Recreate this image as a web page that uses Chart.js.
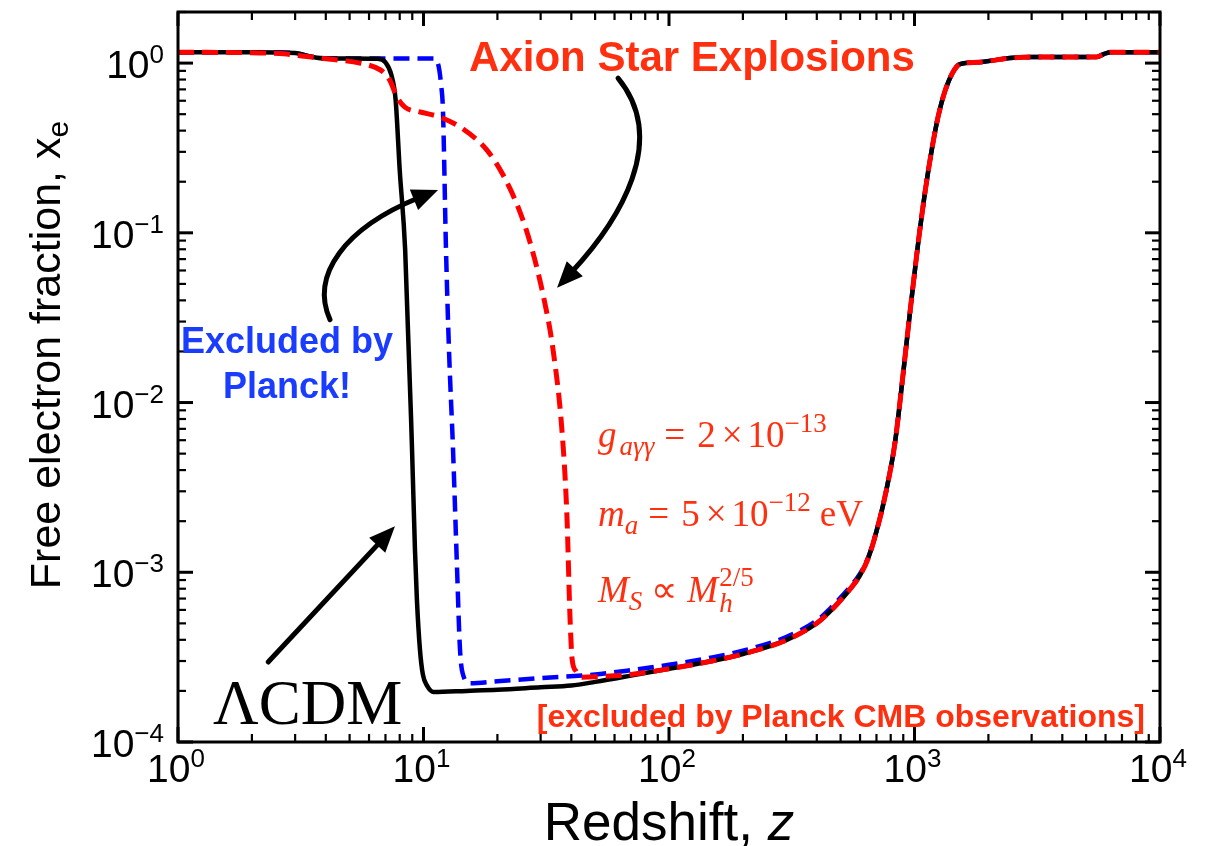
<!DOCTYPE html>
<html>
<head>
<meta charset="utf-8">
<title>Free electron fraction vs redshift</title>
<script src="https://cdn.jsdelivr.net/npm/chart.js@4.4.1/dist/chart.umd.min.js"></script>
<style>
  html, body { margin: 0; padding: 0; background: #fff; }
  #wrap { width: 1211px; height: 846px; position: relative; }
</style>
</head>
<body>
<div id="wrap"><canvas id="xeChart"></canvas></div>
<script>
// standard LCDM ionization history
const lcdmZ  = [1, 2, 3, 3.5, 4, 5, 6.5, 7, 7.4, 7.7, 8.0, 8.42, 8.98, 9.23, 9.4, 9.67, 9.94, 10.35, 11,
                15, 20, 30, 40, 50, 70, 100, 150, 200, 300, 400, 450, 500, 550, 600, 650, 700, 760, 833, 898, 959,
                1033, 1104, 1179, 1247, 1331, 1435, 1532, 1800, 2450, 3000, 5500, 5900, 6300, 10000];
const lcdmXe = [1.16, 1.16, 1.145, 1.09, 1.065, 1.065, 1.06, 1.01, 0.85, 0.606, 0.235, 0.0794, 0.0053, 0.00136, 0.00069, 0.000352, 0.00025, 0.000214, 0.000197,
                0.0002, 0.000203, 0.00021, 0.000215, 0.000226, 0.000246, 0.00027, 0.0003, 0.00033, 0.000398, 0.000501, 0.000582, 0.000684, 0.000805, 0.00096, 0.001225, 0.00174, 0.00284, 0.00582, 0.0146, 0.0343,
                0.085, 0.174, 0.316, 0.481, 0.684, 0.885, 0.987, 1.01, 1.07, 1.085, 1.085, 1.13, 1.16, 1.16];

// early reionization that Planck rules out
const planckZ  = [1, 2, 3, 3.5, 4, 5, 6.5, 8, 11, 11.5, 11.8, 12.0, 12.35, 12.7, 13.19, 13.69, 14.08, 14.6, 15.5,
                  20, 30, 50, 70, 100, 150, 200, 300, 400, 450, 500, 550, 600, 650, 700, 760, 833, 898, 959,
                  1033, 1104, 1179, 1247, 1331, 1435, 1532, 1800, 2450, 3000, 5500, 5900, 6300, 10000];
const planckXe = [1.16, 1.16, 1.145, 1.09, 1.065, 1.065, 1.065, 1.065, 1.065, 0.97, 0.74, 0.53, 0.0794, 0.0205, 0.0053, 0.00108, 0.000352, 0.000241, 0.000222,
                  0.000228, 0.000238, 0.00025, 0.000265, 0.000285, 0.000315, 0.000345, 0.000415, 0.00052, 0.000605, 0.00071, 0.00083, 0.00098, 0.00124, 0.00175, 0.00284, 0.00582, 0.0146, 0.0343,
                  0.085, 0.174, 0.316, 0.481, 0.684, 0.885, 0.987, 1.01, 1.07, 1.085, 1.085, 1.13, 1.16, 1.16];

// heating from axion star explosions
const axionZ  = [1, 2, 2.7, 3.2, 4.3, 5.5, 6.4, 6.9, 7.3, 7.8, 8.4, 9.7, 11.7, 14.5, 18.1, 21.1, 24.7, 27.2, 30.7, 33.7,
                 36.7, 38.4, 39.5, 40.3, 41.8, 44.2, 50, 70, 100, 150, 200, 300, 400, 450, 500, 550, 600, 650, 700, 760, 833, 898, 959,
                 1033, 1104, 1179, 1247, 1331, 1435, 1532, 1800, 2450, 3000, 5500, 5900, 6300, 10000];
const axionXe = [1.16, 1.15, 1.135, 1.10, 1.05, 1.0, 0.94, 0.88, 0.79, 0.63, 0.55, 0.515, 0.48, 0.409, 0.308, 0.219, 0.133, 0.0873, 0.0432, 0.0205,
                 0.00666, 0.00213, 0.00055, 0.000308, 0.000262, 0.000241, 0.000242, 0.00025, 0.00027, 0.0003, 0.00033, 0.000398, 0.000501, 0.000582, 0.000684, 0.000805, 0.00096, 0.001225, 0.00174, 0.00284, 0.00582, 0.0146, 0.0343,
                 0.085, 0.174, 0.316, 0.481, 0.684, 0.885, 0.987, 1.01, 1.07, 1.085, 1.085, 1.13, 1.16, 1.16];

// axis ticks
const xMajorTicks = [1, 10, 100, 1000, 10000];
const xTickExps   = ['0', '1', '2', '3', '4'];
const yMajorTicks = [1e-4, 1e-3, 1e-2, 1e-1, 1];
const yTickExps   = ['\u22124', '\u22123', '\u22122', '\u22121', '0'];

const SANS  = '"Liberation Sans", Arial, Helvetica, sans-serif';
const SERIF = '"Liberation Serif", "Times New Roman", Times, serif';
const RED_TEXT = '#ff3010';
const BLUE_TEXT = '#1a3cff';

const toPoints = (zs, ys) => zs.map((z, i) => ({ x: z, y: ys[i] }));

function minorTicks(majors) {
    const out = [];
    for (let i = 0; i < majors.length - 1; i++) {
        for (let m = 2; m <= 9; m++) out.push(majors[i] * m);
    }
    return out;
}

// draws a list of text runs one after another; a run with stack:true does not advance x
function drawRuns(ctx, x, y, runs) {
    let cx = x;
    runs.forEach(r => {
        ctx.font = r.font;
        ctx.fillText(r.t, cx, y + (r.dy || 0));
        if (!r.stack) cx += ctx.measureText(r.t).width + (r.gap || 0);
    });
    return cx;
}

function runsWidth(ctx, runs) {
    let w = 0;
    runs.forEach(r => {
        ctx.font = r.font;
        if (!r.stack) w += ctx.measureText(r.t).width + (r.gap || 0);
    });
    return w;
}

function powerRuns(exp) {
    return [
        { t: '10', font: '39px ' + SANS },
        { t: exp, font: '26px ' + SANS, dy: -15 }
    ];
}

function drawArrow(ctx, pts) {
    const n = pts.length;
    const tip = pts[n - 1], prev = pts[n - 2];
    const ang = Math.atan2(tip.y - prev.y, tip.x - prev.x);
    const headLen = 26, headHalf = 11;
    // stop the shaft inside the head
    const end = { x: tip.x - Math.cos(ang) * headLen * 0.8, y: tip.y - Math.sin(ang) * headLen * 0.8 };
    ctx.beginPath();
    ctx.moveTo(pts[0].x, pts[0].y);
    if (n === 4) ctx.bezierCurveTo(pts[1].x, pts[1].y, pts[2].x, pts[2].y, end.x, end.y);
    else ctx.lineTo(end.x, end.y);
    ctx.stroke();
    ctx.beginPath();
    ctx.moveTo(tip.x, tip.y);
    ctx.lineTo(tip.x - Math.cos(ang) * headLen - Math.sin(ang) * headHalf, tip.y - Math.sin(ang) * headLen + Math.cos(ang) * headHalf);
    ctx.lineTo(tip.x - Math.cos(ang) * headLen + Math.sin(ang) * headHalf, tip.y - Math.sin(ang) * headLen - Math.cos(ang) * headHalf);
    ctx.closePath();
    ctx.fill();
}

// annotation anchors in data coordinates (redshift, x_e)
const axionArrow  = [[62.0, 0.816], [100, 0.352], [63.2, 0.119], [35.0, 0.0475]];
const planckArrow = [[4.16, 0.0308], [3.45, 0.0566], [4.79, 0.107], [11.46, 0.179]];
const lcdmArrow   = [[2.33, 2.96e-4], [7.65, 1.87e-3]];

const axesAndNotes = {
    id: 'axesAndNotes',
    afterDatasetsDraw(chart) {
        const { ctx, chartArea: a, scales: { x, y } } = chart;
        const px = (z, v) => ({ x: x.getPixelForValue(z), y: y.getPixelForValue(v) });
        ctx.save();

        // frame
        ctx.strokeStyle = '#000';
        ctx.lineWidth = 3;
        ctx.strokeRect(a.left, a.top, a.right - a.left, a.bottom - a.top);

        // inward ticks on all four sides
        ctx.lineCap = 'butt';
        const tick = (x0, y0, x1, y1, w) => {
            ctx.lineWidth = w;
            ctx.beginPath(); ctx.moveTo(x0, y0); ctx.lineTo(x1, y1); ctx.stroke();
        };
        xMajorTicks.forEach(v => {
            const p = x.getPixelForValue(v);
            tick(p, a.bottom, p, a.bottom - 15, 3);
            tick(p, a.top, p, a.top + 14, 3);
        });
        minorTicks(xMajorTicks).forEach(v => {
            const p = x.getPixelForValue(v);
            tick(p, a.bottom, p, a.bottom - 8, 2.2);
            tick(p, a.top, p, a.top + 8, 2.2);
        });
        yMajorTicks.forEach(v => {
            const p = y.getPixelForValue(v);
            tick(a.left, p, a.left + 15, p, 3);
            tick(a.right, p, a.right - 15, p, 3);
        });
        minorTicks(yMajorTicks.concat([10])).forEach(v => {
            if (v > y.max) return;
            const p = y.getPixelForValue(v);
            tick(a.left, p, a.left + 8, p, 2.2);
            tick(a.right, p, a.right - 8, p, 2.2);
        });

        // tick labels
        ctx.fillStyle = '#000';
        ctx.textAlign = 'left';
        ctx.textBaseline = 'alphabetic';
        xMajorTicks.forEach((v, i) => {
            const runs = powerRuns(xTickExps[i]);
            const w = runsWidth(ctx, runs);
            drawRuns(ctx, x.getPixelForValue(v) - w / 2 - 2, a.bottom + 40, runs);
        });
        yMajorTicks.forEach((v, i) => {
            const runs = powerRuns(yTickExps[i]);
            const w = runsWidth(ctx, runs);
            drawRuns(ctx, a.left - 14 - w, y.getPixelForValue(v) + 15, runs);
        });

        // axis titles
        const xt = [
            { t: 'Redshift, ', font: '53px ' + SANS },
            { t: 'z', font: 'italic 53px ' + SANS }
        ];
        drawRuns(ctx, (a.left + a.right) / 2 - runsWidth(ctx, xt) / 2, 840, xt);
        const yt = [
            { t: 'Free electron fraction, x', font: '43px ' + SANS },
            { t: 'e', font: '30px ' + SANS, dy: 8 }
        ];
        ctx.save();
        ctx.translate(60, (a.top + a.bottom) / 2 - 22);
        ctx.rotate(-Math.PI / 2);
        drawRuns(ctx, -runsWidth(ctx, yt) / 2, 0, yt);
        ctx.restore();

        // arrows
        ctx.lineWidth = 5;
        ctx.lineCap = 'round';
        ctx.fillStyle = '#000';
        [axionArrow, planckArrow, lcdmArrow].forEach(arr => drawArrow(ctx, arr.map(p => px(p[0], p[1]))));

        // labels
        ctx.textAlign = 'center';
        ctx.fillStyle = RED_TEXT;
        ctx.font = 'bold 42px ' + SANS;
        let p = px(124, 0.897);
        ctx.fillText('Axion Star Explosions', p.x, p.y);

        ctx.fillStyle = BLUE_TEXT;
        ctx.font = 'bold 36px ' + SANS;
        p = px(2.78, 0.0197);
        ctx.fillText('Excluded by', p.x, p.y);
        p = px(2.78, 0.0107);
        ctx.fillText('Planck!', p.x, p.y);

        ctx.fillStyle = RED_TEXT;
        ctx.textAlign = 'right';
        ctx.font = 'bold 32px ' + SANS;
        p = px(8690, 1.23e-4);
        ctx.fillText('[excluded by Planck CMB observations]', p.x, p.y);

        ctx.textAlign = 'left';
        ctx.fillStyle = '#000';
        ctx.font = '63px ' + SERIF;
        p = px(1.389, 1.28e-4);
        ctx.fillText('\u039BCDM', p.x, p.y);

        // model parameters
        ctx.fillStyle = RED_TEXT;
        const big = '37px ' + SERIF, bigI = 'italic 37px ' + SERIF;
        const sm = '27px ' + SERIF, smI = 'italic 27px ' + SERIF;
        p = px(51.4, 5.44e-3);
        drawRuns(ctx, p.x, p.y, [
            { t: 'g', font: bigI, gap: 3 },
            { t: 'a\u03B3\u03B3', font: smI, dy: 8, gap: 10 },
            { t: '=', font: big, gap: 12 },
            { t: '2', font: big, gap: 6 },
            { t: '\u00D7', font: big, gap: 5 },
            { t: '10', font: big },
            { t: '\u221213', font: sm, dy: -15 }
        ]);
        p = px(51.4, 1.87e-3);
        drawRuns(ctx, p.x, p.y, [
            { t: 'm', font: bigI },
            { t: 'a', font: smI, dy: 8, gap: 10 },
            { t: '=', font: big, gap: 12 },
            { t: '5', font: big, gap: 6 },
            { t: '\u00D7', font: big, gap: 5 },
            { t: '10', font: big },
            { t: '\u221212', font: sm, dy: -15, gap: 9 },
            { t: 'eV', font: big }
        ]);
        p = px(51.4, 6.67e-4);
        drawRuns(ctx, p.x, p.y, [
            { t: 'M', font: bigI },
            { t: 'S', font: smI, dy: 8, gap: 9 },
            { t: '\u221D', font: big, gap: 10 },
            { t: 'M', font: bigI, gap: 1 },
            { t: '2/5', font: sm, dy: -16, stack: true },
            { t: 'h', font: smI, dy: 10 }
        ]);

        ctx.restore();
    }
};

new Chart(document.getElementById('xeChart').getContext('2d'), {
    type: 'line',
    data: {
        datasets: [{
            label: 'Axion Star Explosions',
            data: toPoints(axionZ, axionXe),
            borderColor: '#ff0000',
            borderWidth: 5,
            borderDash: [16, 8],
            order: 0
        }, {
            label: '\u039BCDM',
            data: toPoints(lcdmZ, lcdmXe),
            borderColor: '#000000',
            borderWidth: 4.5,
            order: 1
        }, {
            label: 'Excluded by Planck',
            data: toPoints(planckZ, planckXe),
            borderColor: '#0000ff',
            borderWidth: 4.5,
            borderDash: [16, 8],
            order: 2
        }]
    },
    options: {
        responsive: true,
        maintainAspectRatio: false,
        animation: false,
        elements: {
            point: { radius: 0 },
            line: { cubicInterpolationMode: 'monotone', fill: false }
        },
        layout: { padding: { left: 178, top: 12, right: 51, bottom: 104 } },
        plugins: {
            legend: { display: false },
            tooltip: { enabled: false }
        },
        scales: {
            x: { type: 'logarithmic', min: 1, max: 10000, display: false },
            y: { type: 'logarithmic', min: 1e-4, max: 2, display: false }
        }
    },
    plugins: [axesAndNotes]
});
</script>
</body>
</html>
